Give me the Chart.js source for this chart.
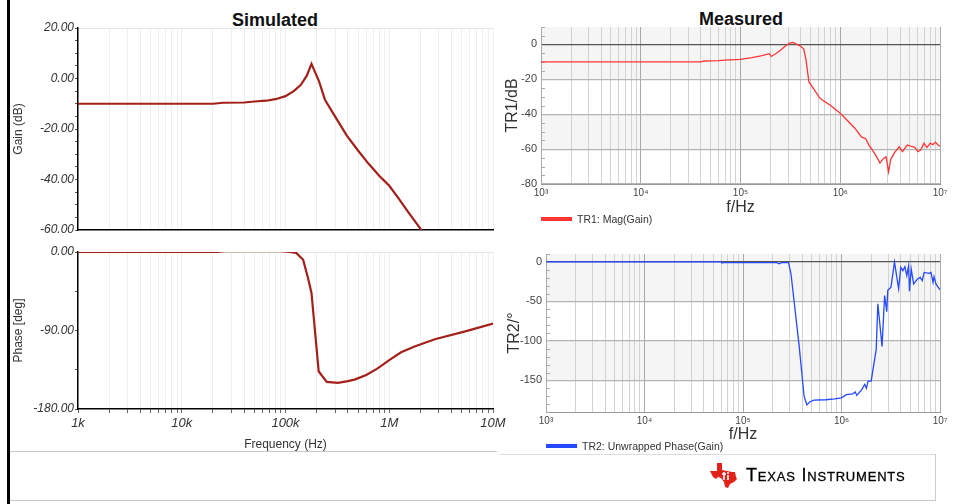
<!DOCTYPE html>
<html>
<head>
<meta charset="utf-8">
<script src="https://cdn.jsdelivr.net/npm/chart.js@4.4.1/dist/chart.umd.min.js"></script>
<style>
body { margin: 0; width: 958px; height: 504px; position: relative; background: #fff; overflow: hidden;
       font-family: "Liberation Sans", Arial, sans-serif; }
canvas { position: absolute; }
.ttl { position: absolute; font-weight: bold; font-size: 18px; color: #111; transform: translate(-50%, -50%); white-space: nowrap; }
.line { position: absolute; background: #c8c8c8; }
.leg { position: absolute; font-size: 10.5px; color: #333; white-space: nowrap; display: flex; align-items: center; }
.leg span.sw { display: inline-block; width: 31px; height: 4px; margin-right: 5px; }
#ti { position: absolute; left: 710px; top: 463px; display: flex; align-items: center; }
#ti .name { font-size: 18px; font-variant: small-caps; letter-spacing: 0.8px; color: #000; margin-left: 8px; -webkit-text-stroke: 0.3px #000; }
</style>
</head>
<body>
<div class="line" style="left:7px;top:0;width:3px;height:504px;background:#000"></div>
<div class="line" style="left:10px;top:451px;width:487px;height:1px"></div>
<div class="line" style="left:500px;top:454px;width:436px;height:1px;background:#ddd"></div>
<div class="line" style="left:935px;top:454px;width:1px;height:47px;background:#ccc"></div>
<div class="line" style="left:10px;top:500px;width:926px;height:1px"></div>

<div class="ttl" style="left:275px;top:20px">Simulated</div>
<div class="ttl" style="left:741px;top:19px">Measured</div>

<canvas id="simGain" width="520" height="240" style="left:0;top:0"></canvas>
<canvas id="simPhase" width="520" height="215" style="left:0;top:240px"></canvas>
<canvas id="measGain" width="458" height="217" style="left:500px;top:0"></canvas>
<canvas id="measPhase" width="458" height="204" style="left:500px;top:240px"></canvas>

<div class="leg" style="left:541px;top:213px"><span class="sw" style="background:#ff3535"></span>TR1: Mag(Gain)</div>
<div class="leg" style="left:546px;top:440px"><span class="sw" style="background:#2449ff"></span>TR2: Unwrapped Phase(Gain)</div>

<div id="ti">
  <svg width="28" height="25" viewBox="0 0 28 25">
    <path d="M7 0 L12 0 L12 7 L17 8 L22 9 L25 9 L26 14 L27 16 L24 19 L20 21 L18 25 L15 24 L14 19 L11 15 L8 14 L6 16 L3 14 L1 10 L0 8 L7 8 Z" fill="#e3211b"/>
    <path d="M14 9 L14 17 M12 11 L16 11 M18 12 L18 17" stroke="#fff" stroke-width="1.6" fill="none"/>
    <circle cx="18" cy="10" r="1" fill="#fff"/>
  </svg>
  <span class="name">Texas Instruments</span>
</div>

<script>
// frequency axis
const decades = [1e3, 1e4, 1e5, 1e6, 1e7];
const simFreqLabels = ['1k', '10k', '100k', '1M', '10M'];
const measFreqLabels = ['10\u00b3', '10\u2074', '10\u2075', '10\u2076', '10\u2077'];

// simulated gain (dB)
const simGainFreq = [1e3, 2e4, 2.5e4, 4e4, 5e4, 6.5e4, 8e4, 1e5, 1.2e5, 1.4e5, 1.6e5, 1.78e5, 2.1e5, 2.4e5, 3e5, 3.9e5, 5e5, 6.3e5, 8e5, 1e6, 1.23e6, 1.5e6, 2.04e6, 2.5e6];
const simGainDb = [-10, -10, -9.6, -9.5, -9.1, -8.8, -8.2, -7, -5, -2.6, 1, 5.8, -1, -8.4, -15, -22.6, -28.5, -33.7, -38.5, -42.5, -47.5, -52.5, -60, -66];

// simulated phase (deg)
const simPhaseFreq = [1e3, 2.2e4, 2.6e4, 9e4, 1.1e5, 1.27e5, 1.48e5, 1.65e5, 1.78e5, 2.09e5, 2.5e5, 3.2e5, 4e5, 4.7e5, 6e5, 7.6e5, 1e6, 1.3e6, 1.78e6, 2.75e6, 5.4e6, 1e7];
const simPhaseDeg = [0, 0, 1, 1, 0, -1, -9, -30, -47, -137, -149, -150, -148, -146, -141, -134, -124, -115, -108, -100, -91, -82];

// measured magnitude (dB)
const measGainFreq = [1e3, 4e4, 4.3e4, 6e4, 7e4, 1e5, 1.3e5, 1.6e5, 1.95e5, 2.03e5, 2.2e5, 2.5e5, 2.8e5, 3.1e5, 3.37e5, 3.6e5, 4e5, 4.3e5, 4.53e5, 4.85e5, 5.5e5, 6.3e5, 8e5, 1e6, 1.2e6, 1.4e6, 1.63e6, 1.8e6, 1.95e6, 2.04e6, 2.3e6, 2.5e6, 2.7e6, 2.88e6, 3.05e6, 3.2e6, 3.5e6, 3.9e6, 4.2e6, 4.7e6, 5.2e6, 5.6e6, 6e6, 6.4e6, 6.9e6, 7.4e6, 8e6, 8.5e6, 9e6, 9.5e6, 1e7];
const measGainDb = [-10, -10, -9.5, -9.3, -9, -8.6, -7.5, -6.5, -5.3, -6.9, -5.8, -3.5, -1, 0.8, 1.1, 0.3, -1, -2.5, -8.6, -21.5, -26, -31, -35, -39.5, -44, -48, -53, -54, -58, -59.5, -64, -68, -65.5, -64.4, -73, -66, -62, -58.7, -61.5, -57.7, -58.5, -59, -61.5, -60.5, -56.7, -59, -56.6, -57.5, -56, -57.5, -58.3];

// measured unwrapped phase (deg)
const measPhaseFreq = [1e3, 6e4, 6.1e4, 2.2e5, 2.34e5, 2.45e5, 2.9e5, 3.07e5, 3.72e5, 4.17e5, 4.45e5, 4.8e5, 5.25e5, 6.9e5, 8.5e5, 1e6, 1.12e6, 1.3e6, 1.38e6, 1.43e6, 1.6e6, 1.72e6, 1.79e6, 1.86e6, 2e6, 2.25e6, 2.34e6, 2.58e6, 2.74e6, 2.88e6, 2.95e6, 3.18e6, 3.45e6, 3.8e6, 4e6, 4.2e6, 4.4e6, 4.6e6, 4.8e6, 4.9e6, 5.1e6, 5.4e6, 5.9e6, 6.3e6, 6.6e6, 6.9e6, 7.7e6, 8.1e6, 8.5e6, 8.7e6, 9.1e6, 1e7];
const measPhaseDeg = [0, 0, -1, -1, -2.5, -1, -1, -15, -107, -170, -181, -177, -175, -174.5, -173.5, -172, -168, -167, -164.6, -169, -162, -155, -160, -151, -151, -111, -53, -107, -42.5, -63, -36, -32, 0, -34, -7, -11, -6, -17.5, -5, -37, -9, -28, -21.7, -19.6, -23.7, -13.3, -14.6, -13.3, -25.8, -18.8, -27.9, -35.4];

const pts = (xs, ys) => xs.map((x, i) => ({ x: x, y: ys[i] }));
const logTicks = [];
decades.forEach((d, i) => {
    if (i === decades.length - 1) { logTicks.push(d); return; }
    for (let m = 1; m <= 9; m++) logTicks.push(m * d);
});

// background bands + inner minor tick marks
const extras = {
    id: 'extras',
    beforeDraw(chart, args, opts) {
        const { ctx, chartArea: a, scales: { y } } = chart;
        (opts.bands || []).forEach(b => {
            const y1 = y.getPixelForValue(b[0]), y2 = y.getPixelForValue(b[1]);
            ctx.fillStyle = b[2];
            ctx.fillRect(a.left, y1, a.right - a.left, y2 - y1);
        });
    },
    beforeDatasetsDraw(chart, args, opts) {
        if (!opts.minor) return;
        const { ctx, chartArea: a, scales: { y } } = chart;
        ctx.save();
        ctx.strokeStyle = '#aaa';
        ctx.lineWidth = 1;
        y.ticks.forEach(t => {
            if (t.value % opts.major === 0) return;
            const py = Math.round(y.getPixelForValue(t.value)) + 0.5;
            ctx.beginPath();
            ctx.moveTo(a.left, py);
            ctx.lineTo(a.left + 4, py);
            ctx.stroke();
        });
        ctx.restore();
    }
};

function logX(labels, opt) {
    return Object.assign({
        type: 'logarithmic', min: 1e3, max: 1e7,
        afterBuildTicks: s => { s.ticks = logTicks.map(v => ({ value: v })); },
        ticks: {
            autoSkip: false, maxRotation: 0,
            callback: v => { const i = decades.indexOf(v); return i >= 0 ? labels[i] : ''; }
        }
    }, opt);
}

function simChart(id, data, yMin, yMax, step, major, yTitle, showX, pad, xHeight) {
    const x = logX(simFreqLabels, {
        afterFit: s => { s.height = xHeight; },
        grid: { color: '#f0f0f0', drawTicks: showX, tickLength: 4, tickColor: '#666' },
        border: { color: '#000', width: 1.5 },
        ticks: {
            display: showX, autoSkip: false, maxRotation: 0, padding: 3,
            color: '#333', font: { family: 'Liberation Sans', size: 13, style: 'italic' },
            callback: v => { const i = decades.indexOf(v); return i >= 0 ? simFreqLabels[i] : ''; }
        },
        title: { display: showX, text: 'Frequency (Hz)', color: '#333',
                 font: { family: 'Liberation Sans', size: 12 }, padding: { top: 0, bottom: 3 } }
    });
    new Chart(document.getElementById(id), {
        type: 'line',
        data: { datasets: [{ data: data, borderColor: '#a3201a', borderWidth: 2.2, pointRadius: 0, tension: 0, fill: false }] },
        plugins: [extras],
        options: {
            responsive: false, animation: false,
            layout: { padding: pad },
            plugins: { legend: { display: false }, tooltip: { enabled: false } },
            scales: {
                x: x,
                y: {
                    min: yMin, max: yMax,
                    afterFit: s => { s.width = 78; },
                    ticks: { stepSize: step, padding: 1, color: '#333', autoSkip: false,
                             font: { family: 'Liberation Sans', size: 12, style: 'italic' },
                             callback: v => v % major === 0 ? v.toFixed(2) : '' },
                    grid: { color: c => c.tick && c.tick.value === yMax ? '#e4e4e4' : 'transparent',
                            tickLength: 3, tickColor: '#555' },
                    border: { color: '#000', width: 1.5 },
                    title: { display: true, text: yTitle, color: '#333',
                             font: { family: 'Liberation Sans', size: 12 }, padding: { top: 11, bottom: 0 } }
                }
            }
        }
    });
}

function measChart(id, data, color, yMin, yMax, step, major, yTitle, bands, pad, yWidth, xHeight, titlePad) {
    new Chart(document.getElementById(id), {
        type: 'line',
        data: { datasets: [{ data: data, borderColor: color, borderWidth: 1.3, pointRadius: 0, tension: 0, fill: false }] },
        plugins: [extras],
        options: {
            responsive: false, animation: false,
            layout: { padding: pad },
            plugins: { legend: { display: false }, tooltip: { enabled: false },
                       extras: { bands: bands, minor: true, major: major } },
            scales: {
                x: logX(measFreqLabels, {
                    afterFit: s => { s.height = xHeight; },
                    grid: { color: c => decades.includes(c.tick.value) ? '#a8a8a8' : '#d2d2d2', drawTicks: false },
                    border: { color: '#999' },
                    ticks: { autoSkip: false, maxRotation: 0, padding: 3, color: '#444',
                             font: { family: 'Liberation Sans', size: 10 },
                             callback: v => { const i = decades.indexOf(v); return i >= 0 ? measFreqLabels[i] : ''; } },
                    title: { display: true, text: 'f/Hz', color: '#333',
                             font: { family: 'Liberation Sans', size: 16 }, padding: { top: 0, bottom: 0 } }
                }),
                y: {
                    min: yMin, max: yMax,
                    afterFit: s => { s.width = yWidth; },
                    ticks: { stepSize: step, padding: 4, color: '#444', autoSkip: false,
                             font: { family: 'Liberation Sans', size: 11 },
                             callback: v => v % major === 0 ? String(v) : '' },
                    grid: { drawTicks: false,
                            color: c => c.tick.value === 0 ? '#555' : (c.tick.value % major === 0 && c.tick.value !== yMax ? '#b5b5b5' : 'transparent'),
                            lineWidth: c => c.tick.value % major === 0 ? 1.2 : 1 },
                    border: { color: '#aaa' },
                    title: { display: true, text: yTitle, color: '#333',
                             font: { family: 'Liberation Sans', size: 16 }, padding: { top: titlePad, bottom: 0 } }
                }
            }
        }
    });
}

simChart('simGain', pts(simGainFreq, simGainDb), -60, 20, 5, 20, 'Gain (dB)', false,
         { top: 28, right: 27, left: 0, bottom: 0 }, 10);
simChart('simPhase', pts(simPhaseFreq, simPhaseDeg), -180, 0, 45, 90, 'Phase [deg]', true,
         { top: 12, right: 27, left: 0, bottom: 0 }, 46);

measChart('measGain', pts(measGainFreq, measGainDb), '#ff3535', -80, 10, 5, 20, 'TR1/dB',
          [[10, 0, '#f5f5f5'], [0, -20, '#f5f5f5'], [-40, -60, '#f5f5f5']],
          { top: 27, right: 18, left: 0, bottom: 0 }, 41, 33, 3);
measChart('measPhase', pts(measPhaseFreq, measPhaseDeg), '#2449ff', -190, 10, 10, 50, 'TR2/\u00b0',
          [[10, 0, '#f5f5f5'], [0, -50, '#f5f5f5'], [-100, -150, '#f5f5f5']],
          { top: 14, right: 18, left: 0, bottom: 0 }, 46, 32, 5);
</script>
</body>
</html>
